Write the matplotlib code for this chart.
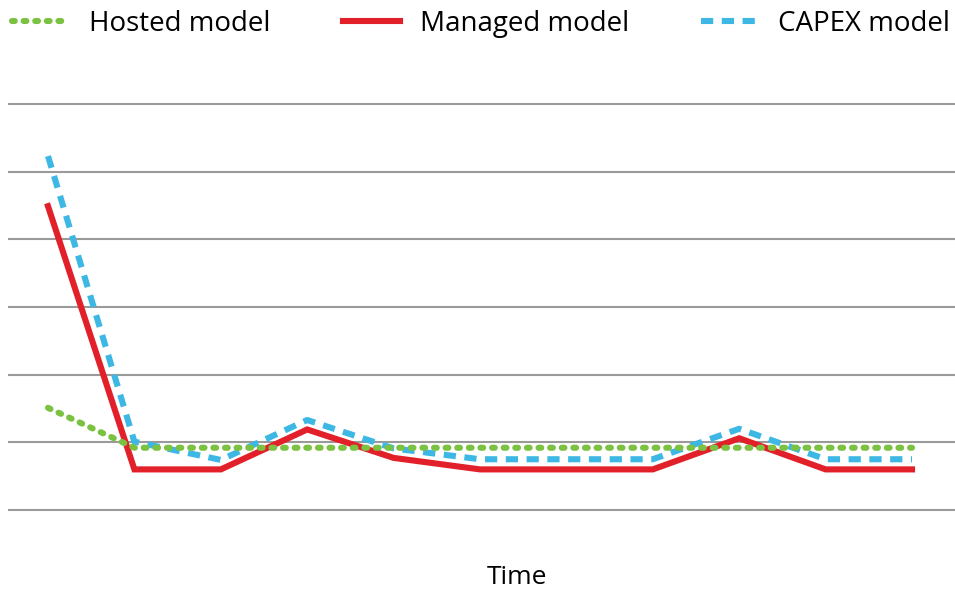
import matplotlib.pyplot as plt
import numpy as np

plt.rcParams['font.family'] = ['Open Sans', 'DejaVu Sans']

# values read per time step (arbitrary cost units, one gridline = 1)
periodos = np.arange(11)
hosted = [1.51, 0.92, 0.92, 0.92, 0.92, 0.92, 0.92, 0.92, 0.92, 0.92, 0.92]
managed = [4.49, 0.60, 0.60, 1.19, 0.77, 0.60, 0.60, 0.60, 1.06, 0.60, 0.60]
capex = [5.23, 1.01, 0.74, 1.33, 0.91, 0.75, 0.75, 0.75, 1.20, 0.75, 0.75]

W, H = 955, 592
fig = plt.figure(figsize=(W / 100, H / 100), dpi=100)

# axes in pixel coords: left 8, right 955, top 90, bottom 530
ax = fig.add_axes([8 / W, 1 - 530 / H, (955 - 8) / W, (530 - 90) / H])
ax.set_xlim(-40 / 86.4, 907 / 86.4)
ax.set_ylim(-20 / 67.67, 420 / 67.67)

ax.set_yticks(range(7))
ax.set_xticks([])
ax.tick_params(left=False, labelleft=False)
ax.grid(axis='y', color='#9a9a9a', linewidth=1.5)
for s in ax.spines.values():
    s.set_visible(False)

ax.plot(periodos, capex, color='#3db7e4', linewidth=4.4, dashes=(2.0, 1.4),
        dash_capstyle='butt', label='CAPEX model', zorder=3)
ax.plot(periodos, managed, color='#e2202a', linewidth=4.4, solid_joinstyle='miter',
        label='Managed model', zorder=4)
ax.plot(periodos, hosted, color='#7cc242', linewidth=4.4, dashes=(0.45, 1.45),
        dash_capstyle='round', label='Hosted model', zorder=5)

handles, labels = ax.get_legend_handles_labels()
orden = [2, 1, 0]
fig.legend([handles[i] for i in orden], [labels[i] for i in orden],
           loc='upper left', bbox_to_anchor=(12 / W, 1 - 10 / H), ncol=3,
           frameon=False, fontsize=20, handlelength=2.05, handletextpad=0.72,
           columnspacing=2.6, borderpad=0, borderaxespad=0)

fig.text(517 / W, 1 - 578 / H, 'Time', ha='center', va='center', fontsize=19)

plt.savefig('out.png', dpi=100)
